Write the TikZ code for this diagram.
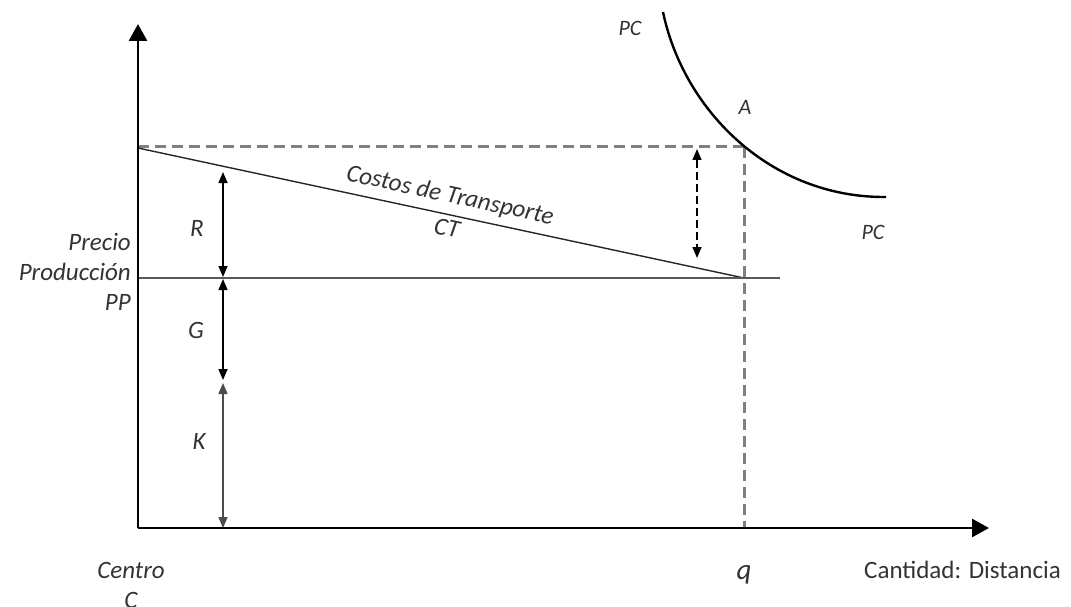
\documentclass[tikz,border=0pt]{standalone}
\usepackage{fontspec}
\setmainfont{Carlito}
\usetikzlibrary{arrows.meta}
\begin{document}
\begin{tikzpicture}[x=1pt,y=-1pt,
  lbl/.style={inner sep=0pt,text=black!80,font=\fontsize{25}{30}\selectfont\itshape},
  small/.style={font=\fontsize{22}{26}\selectfont\itshape},
  axis/.style={line width=2.8pt,-{Triangle[width=18pt,length=17pt]}},
  dimarrow/.style={line width=1.5pt,{Triangle[width=9pt,length=11pt]}-{Triangle[width=9pt,length=11pt]}},
  guide/.style={line width=3pt,draw=black!50,dash pattern=on 11pt off 6pt},
]
\useasboundingbox (0,0) rectangle (1071,607);
% coordinates
\coordinate (O) at (138,528);
\coordinate (ytop) at (138,24);
\coordinate (xend) at (989,528);
\coordinate (ctA) at (138,148);
\coordinate (ctB) at (744,278);
\coordinate (ppA) at (138,278);
\coordinate (ppB) at (780,278);
\coordinate (dtop) at (138,147);
\coordinate (A) at (744,147);
\coordinate (qx) at (744,528);
\coordinate (Rt) at (223,172);
\coordinate (Rb) at (223,277);
\coordinate (Gt) at (223,279);
\coordinate (Gb) at (223,380);
\coordinate (Kt) at (223,383);
\coordinate (Kb) at (223,528);
\coordinate (Dt) at (697,149);
\coordinate (Db) at (697,258);
\coordinate (pc1) at (663,12);
\coordinate (pc2) at (886,197);
% guides
\draw[guide] (dtop) -- (A);
\draw[guide] (A) -- (qx);
% lines
\draw[line width=1.4pt,black!85] (ctA) -- (ctB);
\draw[line width=1.2pt,black!65] (ppA) -- (ppB);
% axes
\draw[axis] (O) -- (ytop);
\draw[axis] (O) -- (xend);
% PC curve
\draw[line width=2.4pt] (pc1) .. controls (684,112) and (772,198) .. (pc2);
% dimension arrows
\draw[dimarrow] (Rt) -- (Rb);
\draw[dimarrow] (Gt) -- (Gb);
\draw[dimarrow,black!70] (Kt) -- (Kb);
\draw[dimarrow,dash pattern=on 8pt off 4pt,line width=1.3pt] (Dt) -- (Db);
% labels
\node[lbl] (lR) at (197,228) {R};
\node[lbl] (lG) at (196,330) {G};
\node[lbl] (lK) at (199,441) {K};
\node[lbl,small] (lpc1) at (630,28) {PC};
\node[lbl,small] (lpc2) at (873,232) {PC};
\node[lbl,small] (lA) at (745,107) {A};
\node[lbl,rotate=-12.1] (lct1) at (450,196) {Costos de Transporte};
\node[lbl,rotate=-12.1] (lct2) at (447,228) {CT};
\node[lbl,align=right,anchor=east] (lpp) at (131,272) {Precio\\Producción\\PP};
\node[lbl] (lc1) at (131,570) {Centro};
\node[lbl] (lc2) at (131,600) {C};
\node[lbl,font=\fontsize{29}{30}\selectfont\itshape] (lq) at (744,575) {q};
\node[lbl,font=\fontsize{25}{30}\selectfont,anchor=west] (lcd) at (864,570) {Cantidad: Distancia};
\end{tikzpicture}
\end{document}
